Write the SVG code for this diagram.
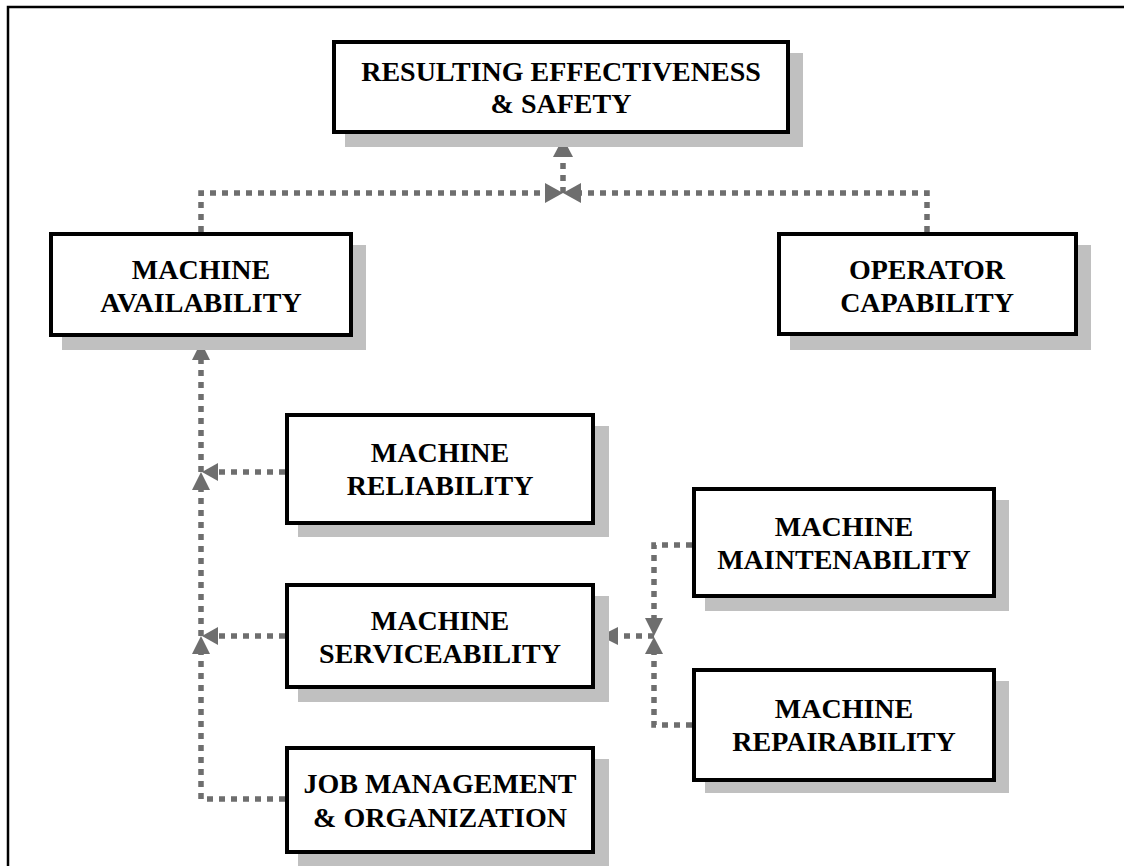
<svg xmlns="http://www.w3.org/2000/svg" width="1124" height="866" viewBox="0 0 1124 866">
  <style>
    .frame { fill: none; stroke: #000; stroke-width: 2.5; }
    .shadow { fill: #c0c0c0; stroke: none; }
    .box { fill: #fff; stroke: #000; stroke-width: 4; }
    .label { font-family: "Liberation Serif", "Times New Roman", serif; font-weight: bold; font-size: 28px; fill: #000; text-anchor: middle; }
    .link { fill: none; stroke: #6e6e6e; stroke-width: 5.5; stroke-dasharray: 6 6; }
    .head { fill: #6e6e6e; stroke: none; }
  </style>

  <rect width="1124" height="866" fill="#fff"/>
  <path class="frame" d="M8,866 V7 H1124"/>

  <!-- connectors -->
  <g id="connectors">
    <path class="link" d="M201,232 V193 H545"/>
    <polygon class="head" points="545,183 563,193 545,203"/>
    <path class="link" d="M927,232 V193 H581"/>
    <polygon class="head" points="581,183 563,193 581,203"/>
    <path class="link" d="M563,193 V157"/>
    <polygon class="head" points="553,157 563,138 573,157"/>

    <path class="link" d="M285,799 H201 V654"/>
    <polygon class="head" points="192,654 201,636 210,654"/>
    <path class="link" d="M201,636 V490"/>
    <polygon class="head" points="192,490 201,472 210,490"/>
    <path class="link" d="M201,472 V360"/>
    <polygon class="head" points="192,360 201,342 210,360"/>

    <path class="link" d="M285,472 H218"/>
    <polygon class="head" points="218,463 202,472 218,481"/>
    <path class="link" d="M285,636 H218"/>
    <polygon class="head" points="218,627 202,636 218,645"/>

    <path class="link" d="M692,545 H654 V618"/>
    <polygon class="head" points="645,618 654,636 663,618"/>
    <path class="link" d="M692,725 H654 V654"/>
    <polygon class="head" points="645,654 654,637 663,654"/>
    <path class="link" d="M654,636 H618"/>
    <polygon class="head" points="618,627 600,636 618,645"/>
  </g>

  <g id="node-effectiveness">
    <rect class="shadow" x="345" y="53" width="458" height="94"/>
    <rect class="box" x="334" y="42" width="454" height="90"/>
    <text class="label" x="561" y="81">RESULTING EFFECTIVENESS</text>
    <text class="label" x="561" y="113">&amp; SAFETY</text>
  </g>

  <g id="node-availability">
    <rect class="shadow" x="62" y="245" width="304" height="105"/>
    <rect class="box" x="51" y="234" width="300" height="101"/>
    <text class="label" x="201" y="279">MACHINE</text>
    <text class="label" x="201" y="312">AVAILABILITY</text>
  </g>

  <g id="node-operator">
    <rect class="shadow" x="790" y="245" width="301" height="105"/>
    <rect class="box" x="779" y="234" width="297" height="100"/>
    <text class="label" x="927" y="279">OPERATOR</text>
    <text class="label" x="927" y="312">CAPABILITY</text>
  </g>

  <g id="node-reliability">
    <rect class="shadow" x="298" y="426" width="311" height="111"/>
    <rect class="box" x="287" y="415" width="306" height="108"/>
    <text class="label" x="440" y="462">MACHINE</text>
    <text class="label" x="440" y="495">RELIABILITY</text>
  </g>

  <g id="node-serviceability">
    <rect class="shadow" x="298" y="596" width="311" height="106"/>
    <rect class="box" x="287" y="585" width="306" height="102"/>
    <text class="label" x="440" y="630">MACHINE</text>
    <text class="label" x="440" y="663">SERVICEABILITY</text>
  </g>

  <g id="node-job">
    <rect class="shadow" x="298" y="759" width="311" height="108"/>
    <rect class="box" x="287" y="748" width="306" height="104"/>
    <text class="label" x="440" y="793">JOB MANAGEMENT</text>
    <text class="label" x="440" y="827">&amp; ORGANIZATION</text>
  </g>

  <g id="node-maintenability">
    <rect class="shadow" x="705" y="500" width="304" height="111"/>
    <rect class="box" x="694" y="489" width="300" height="107"/>
    <text class="label" x="844" y="536">MACHINE</text>
    <text class="label" x="844" y="569">MAINTENABILITY</text>
  </g>

  <g id="node-repairability">
    <rect class="shadow" x="705" y="681" width="304" height="112"/>
    <rect class="box" x="694" y="670" width="300" height="110"/>
    <text class="label" x="844" y="718">MACHINE</text>
    <text class="label" x="844" y="751">REPAIRABILITY</text>
  </g>
</svg>
